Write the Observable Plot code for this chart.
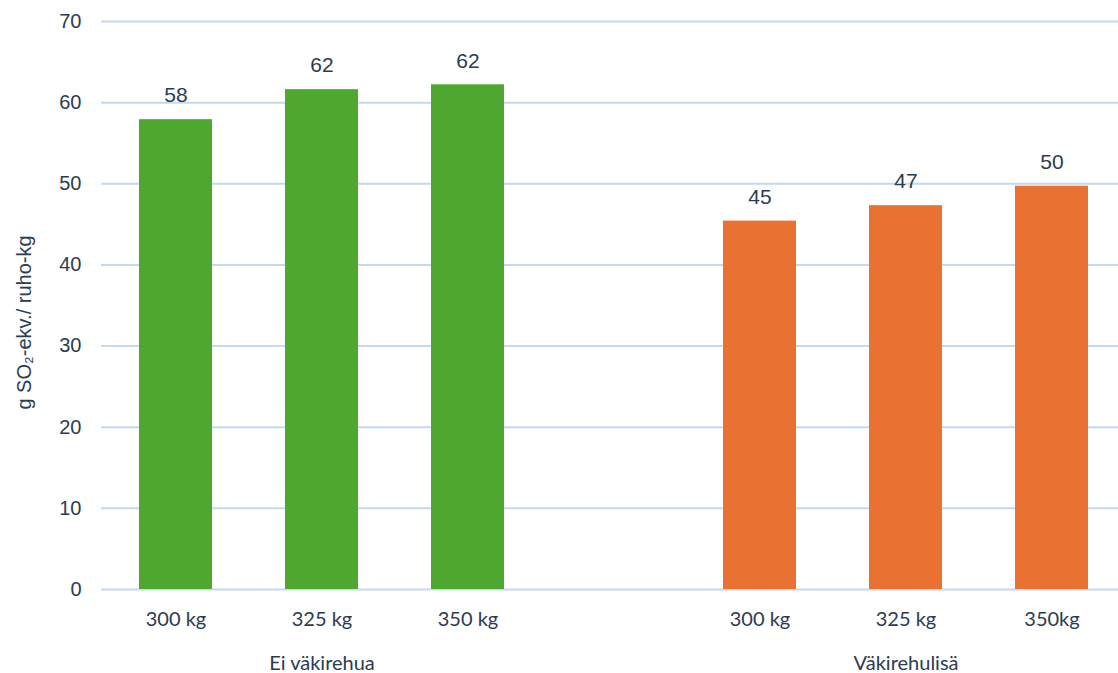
<!DOCTYPE html>
<html>
<head>
<meta charset="utf-8">
<script src="https://cdn.jsdelivr.net/npm/d3@7"></script>
<script src="https://cdn.jsdelivr.net/npm/@observablehq/plot@0.6"></script>
<style>
  html, body { margin: 0; padding: 0; background: #fff; }
  #chart svg { display: block; }
</style>
</head>
<body>
<div id="chart"></div>
<script>
// ---- data ----
const groupNames = ["Ei väkirehua", "Väkirehulisä"];
const slotKeys = ["E1", "E2", "E3", "gap", "V1", "V2", "V3"];
const tickLabels = ["300 kg", "325 kg", "350 kg", "", "300 kg", "325 kg", "350kg"];
const barSlots = ["E1", "E2", "E3", "V1", "V2", "V3"];
const barGroups = ["Ei väkirehua", "Ei väkirehua", "Ei väkirehua", "Väkirehulisä", "Väkirehulisä", "Väkirehulisä"];
const barValues = [57.9, 61.6, 62.2, 45.4, 47.3, 49.7];
const groupLabelSlots = ["E2", "V2"];
const yTicks = [0, 10, 20, 30, 40, 50, 60, 70];
const yTitle = "g SO₂-ekv./ ruho-kg";

const colors = ["#4ea72e", "#e97132"];
const textColor = "#2a3c52";

const bars = barSlots.map((s, i) => ({slot: s, group: barGroups[i], value: barValues[i]}));
const groupLabels = groupNames.map((g, i) => ({slot: groupLabelSlots[i], name: g}));
const tickMap = new Map(slotKeys.map((k, i) => [k, tickLabels[i]]));

const chart = Plot.plot({
  width: 1118,
  height: 673,
  marginLeft: 101,
  marginRight: 0,
  marginTop: 21,
  marginBottom: 84,
  style: {fontFamily: "Liberation Sans, Arial, sans-serif", color: textColor, background: "#fff"},
  x: {domain: slotKeys, range: [101, 1126], paddingInner: 0.5, paddingOuter: 0.25, label: null},
  y: {domain: [0, 70], label: null},
  color: {domain: groupNames, range: colors},
  marks: [
    Plot.gridY(yTicks, {stroke: "#c5d9ee", strokeOpacity: 1, strokeWidth: 2}),
    Plot.axisY(yTicks, {tickSize: 0, fontSize: 20, tickPadding: 20, fill: textColor, label: null}),
    Plot.axisX({tickSize: 0, fontSize: 20, fontFamily: "Lato, sans-serif", tickPadding: 22, fill: textColor, label: null, tickFormat: d => tickMap.get(d)}),
    Plot.barY(bars, {x: "slot", y: "value", fill: "group"}),
    Plot.text(bars, {x: "slot", y: "value", text: d => d3.format(".0f")(d.value), dy: -24, fontSize: 21, fill: textColor}),
    Plot.text(groupLabels, {x: "slot", y: () => 0, text: "name", dy: 74, fontSize: 20, fontFamily: "Lato, sans-serif", fill: textColor}),
    Plot.text([yTitle], {frameAnchor: "left", textAnchor: "middle", dx: -77, dy: 17, rotate: -90, fontSize: 20, fill: textColor})
  ]
});
document.getElementById("chart").appendChild(chart);
</script>
</body>
</html>
